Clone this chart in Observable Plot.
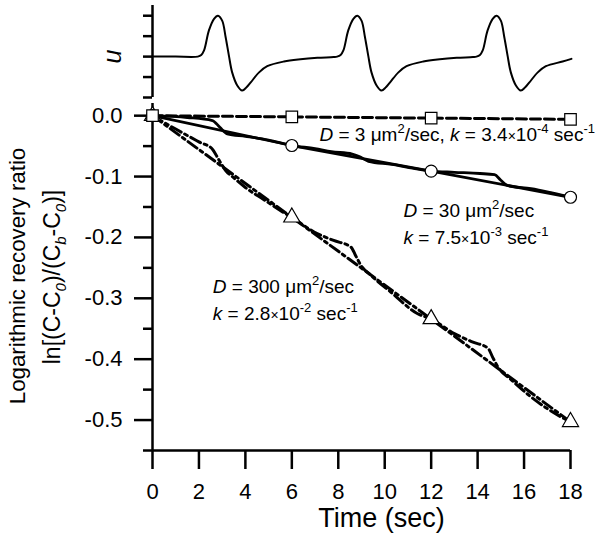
<!DOCTYPE html>
<html><head><meta charset="utf-8">
<script src="https://cdn.jsdelivr.net/npm/d3@7"></script>
<script src="https://cdn.jsdelivr.net/npm/@observablehq/plot@0.6"></script>
<style>
body{margin:0;background:#fff}
#wrap{position:relative;width:600px;height:541px;background:#fff;overflow:hidden}
#wrap svg{position:absolute;left:0;display:block}
</style></head><body><div id="wrap"></div>
<script>
const FONT = '"Liberation Sans", Arial, Helvetica, sans-serif';

// ---- top panel: waveform u(t) ----
const uTime = [0, 1.0, 1.95, 2.1, 2.22, 2.43, 2.65, 2.82, 3.0, 3.15, 3.29, 3.43, 3.65, 3.86, 4.05, 4.23, 4.59, 4.94, 5.66, 6.37, 7.1, 7.8,
  7.95, 8.1, 8.22, 8.43, 8.65, 8.82, 9.0, 9.15, 9.29, 9.43, 9.65, 9.86, 10.05, 10.23, 10.59, 10.94, 11.66, 12.37, 13.1, 13.8,
  13.95, 14.1, 14.22, 14.43, 14.65, 14.82, 15.0, 15.15, 15.29, 15.43, 15.65, 15.86, 16.05, 16.23, 16.59, 16.94, 17.66, 18.04];
const uValue = [0, 0, 0, 0.08, 0.3, 1.28, 1.85, 2.0, 1.76, 0.95, 0.05, -0.77, -1.41, -1.66, -1.5, -1.26, -0.77, -0.47, -0.24, -0.13, -0.06, -0.02,
  0, 0.08, 0.3, 1.28, 1.85, 2.0, 1.76, 0.95, 0.05, -0.77, -1.41, -1.66, -1.5, -1.26, -0.77, -0.47, -0.24, -0.13, -0.06, -0.02,
  0, 0.08, 0.3, 1.28, 1.85, 2.0, 1.76, 0.95, 0.05, -0.77, -1.41, -1.66, -1.5, -1.26, -0.77, -0.47, -0.24, -0.11];
const uTicks = [-2, -1, 0, 1, 2];

// ---- main panel ----
const xTicks = [0, 2, 4, 6, 8, 10, 12, 14, 16, 18];
const yMajor = [0, -0.1, -0.2, -0.3, -0.4, -0.5];
const yMinor = [-0.05, -0.15, -0.25, -0.35, -0.45, -0.55];
const markerTime = [0, 6, 12, 18];
const d3Marker = [0, -0.002, -0.004, -0.006];
const d30Marker = [0, -0.049, -0.091, -0.134];
const d300Marker = [0, -0.167, -0.334, -0.503];
const d30SimTime = [0, 1.5, 2.58, 2.9, 3.22, 4.0, 5.0, 6.0, 7.0, 7.7, 8.6, 8.9, 9.3, 10.3, 11.2, 12.0, 13.0, 14.1, 14.73, 15.0, 15.3, 16.3, 17.2, 18.0];
const d30SimValue = [0, -0.003, -0.008, -0.019, -0.030, -0.034, -0.040, -0.049, -0.054, -0.059, -0.063, -0.067, -0.075, -0.080, -0.086, -0.091, -0.093, -0.095, -0.097, -0.106, -0.115, -0.120, -0.127, -0.134];
const d300SimTime = [0, 1.0, 2.0, 2.58, 2.85, 3.15, 3.5, 4.0, 4.8, 5.6, 6.0, 6.96, 7.8, 8.55, 8.75, 8.98, 9.4, 10.27, 11.4, 12.0, 13.0, 13.8, 14.45, 14.65, 14.88, 15.45, 16.3, 17.6, 18.0];
const d300SimValue = [0, -0.022, -0.043, -0.055, -0.072, -0.090, -0.102, -0.118, -0.138, -0.158, -0.167, -0.191, -0.205, -0.216, -0.230, -0.246, -0.262, -0.290, -0.325, -0.334, -0.358, -0.372, -0.382, -0.397, -0.413, -0.434, -0.462, -0.495, -0.503];

// annotations: anchor (time, value) of the text baseline start
const annotations = [
  {t: 7.21, v: -0.0424, parts: [["D","i"],[" = 3 \u03bcm"],["2","sup"],["/sec, "],["k","i"],[" = 3.4"],["\u00d7","x"],["10"],["-4","sup"],[" sec"],["-1","sup"]]},
  {t: 10.83, v: -0.1668, parts: [["D","i"],[" = 30 \u03bcm"],["2","sup"],["/sec"]]},
  {t: 10.83, v: -0.2116, parts: [["k","i"],[" = 7.5"],["\u00d7","x"],["10"],["-3","sup"],[" sec"],["-1","sup"]]},
  {t: 2.62, v: -0.2921, parts: [["D","i"],[" = 300 \u03bcm"],["2","sup"],["/sec"]]},
  {t: 2.62, v: -0.3365, parts: [["k","i"],[" = 2.8"],["\u00d7","x"],["10"],["-2","sup"],[" sec"],["-1","sup"]]}
];
const xTitle = "Time (sec)";
const yTitle1 = "Logarithmic recovery ratio";
const yTitle2 = [["ln[(C-C"],["0","sub"],[")/(C"],["b","sub"],["-C"],["0","sub"],[")]"]];
const uTitle = "u";

const uData = uTime.map((t, i) => ({t, u: uValue[i]}));
const pts = (ts, vs) => ts.map((t, i) => ({t, v: vs[i]}));
const d3Data = pts(markerTime, d3Marker);
const d30Fit = pts(markerTime, d30Marker);
const d300Fit = pts(markerTime, d300Marker);
const d30Sim = pts(d30SimTime, d30SimValue);
const d300Sim = pts(d300SimTime, d300SimValue);

const baseStyle = {fontFamily: FONT, color: "black", background: "transparent", overflow: "visible"};
const wrap = document.getElementById("wrap");

const topPlot = Plot.plot({
  width: 600, height: 100, marginTop: 5, marginBottom: 3, marginLeft: 152, marginRight: 30,
  style: baseStyle,
  x: {domain: [0, 18], axis: null},
  y: {domain: [-2, 2.5]},
  marks: [
    Plot.axisY({ticks: uTicks, tickSize: 9, tickFormat: () => "", strokeWidth: 2.5, label: null}),
    Plot.ruleX([0], {strokeWidth: 2.5}),
    Plot.line(uData, {x: "t", y: "u", curve: "catmull-rom", strokeWidth: 2})
  ]
});
topPlot.style.top = "0px";
wrap.appendChild(topPlot);

const dash = "10,4", dashDot = "11,4,3,4";
const main = Plot.plot({
  width: 600, height: 441, marginTop: 3, marginBottom: 91, marginLeft: 152, marginRight: 30,
  style: baseStyle,
  x: {domain: [0, 18]},
  y: {domain: [-0.55, 0.02]},
  marks: [
    Plot.axisX({ticks: xTicks, tickSize: 19, tickPadding: 14, fontSize: 22, strokeWidth: 2.5, label: null, tickFormat: d => String(d)}),
    Plot.axisY({ticks: yMajor, tickSize: 18, tickPadding: 12, fontSize: 22, strokeWidth: 2.5, label: null, tickFormat: d => d.toFixed(1)}),
    Plot.axisY({ticks: yMinor, tickSize: 9, tickFormat: () => "", strokeWidth: 2.5, label: null}),
    Plot.ruleX([0], {strokeWidth: 2.5}),
    Plot.ruleY([-0.55], {strokeWidth: 2.5}),
    Plot.line(d300Fit, {x: "t", y: "v", strokeWidth: 3, strokeDasharray: dashDot}),
    Plot.line(d300Sim, {x: "t", y: "v", curve: "monotone-x", strokeWidth: 3, strokeDasharray: dashDot}),
    Plot.line(d30Fit, {x: "t", y: "v", strokeWidth: 2.8}),
    Plot.line(d30Sim, {x: "t", y: "v", curve: "monotone-x", strokeWidth: 2.8}),
    Plot.line(d3Data, {x: "t", y: "v", strokeWidth: 3, strokeDasharray: dash}),
    Plot.dot(d300Fit, {x: "t", y: "v", symbol: "triangle", r: 6, fill: "white", stroke: "black", strokeWidth: 1.2}),
    Plot.dot(d30Fit, {x: "t", y: "v", symbol: "circle", r: 6, fill: "white", stroke: "black", strokeWidth: 1.2}),
    Plot.dot(d3Data, {x: "t", y: "v", symbol: "square", r: 6.5, fill: "white", stroke: "black", strokeWidth: 1.2})
  ]
});
main.style.top = "100px";
wrap.appendChild(main);

function addParts(textSel, parts, size) {
  let shift = 0;
  parts.forEach(([s, kind]) => {
    const ts = textSel.append("tspan").text(s);
    let target = 0;
    if (kind === "sup") { ts.attr("font-size", Math.round(size * 0.66)); target = -Math.round(size * 0.42); }
    else if (kind === "sub") { ts.attr("font-size", Math.round(size * 0.66)); ts.attr("font-style", "italic"); target = Math.round(size * 0.25); }
    else if (kind === "x") { ts.attr("font-size", Math.round(size * 0.75)); }
    else if (kind === "i") { ts.attr("font-style", "italic"); }
    if (target !== shift) { ts.attr("dy", target - shift); shift = target; }
  });
}

const sx = main.scale("x"), sy = main.scale("y");
const msvg = d3.select(main);
annotations.forEach(a => {
  const t = msvg.append("text").attr("x", sx.apply(a.t)).attr("y", sy.apply(a.v))
    .attr("text-anchor", "start")
    .attr("font-family", FONT).attr("font-size", 19).attr("fill", "black");
  addParts(t, a.parts, 19);
});
msvg.append("text").attr("x", sx.apply(9.88)).attr("y", 427).attr("text-anchor", "middle")
  .attr("font-family", FONT).attr("font-size", 27).attr("fill", "black").text(xTitle);
msvg.append("text").attr("transform", "translate(24.5,176) rotate(-90)").attr("text-anchor", "middle")
  .attr("font-family", FONT).attr("font-size", 22.3).attr("fill", "black").text(yTitle1);
const yt2 = msvg.append("text").attr("transform", "translate(60,177) rotate(-90)").attr("text-anchor", "middle")
  .attr("font-family", FONT).attr("font-size", 23).attr("fill", "black");
addParts(yt2, yTitle2, 23);

d3.select(topPlot).append("text").attr("transform", "translate(121,56.5) rotate(-90)").attr("text-anchor", "middle")
  .attr("font-family", FONT).attr("font-size", 25).attr("font-style", "italic").attr("fill", "black").text(uTitle);
</script></body></html>
